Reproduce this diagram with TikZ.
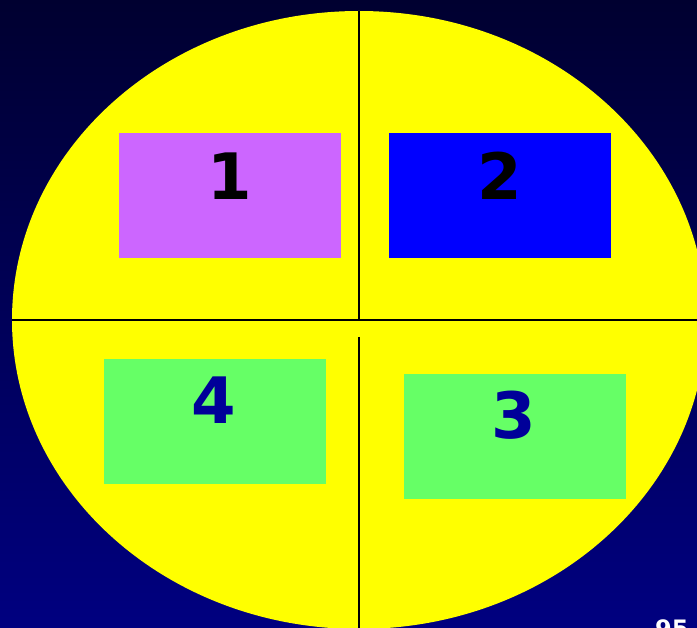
\documentclass[tikz,border=0pt]{standalone}
\usepackage{fontspec}
\setmainfont{DejaVu Sans}
\begin{document}
\begin{tikzpicture}[x=1pt,y=-1pt,
  box/.style={draw=none,anchor=north west,inner sep=0pt,minimum width=222pt,minimum height=125pt},
  num/.style={inner sep=0pt,font=\fontsize{64}{64}\selectfont\bfseries},
  divider/.style={draw=black,line width=2pt}]
\useasboundingbox (0,0) rectangle (697,628);
\shade[top color={rgb,255:red,0;green,0;blue,48},bottom color={rgb,255:red,0;green,0;blue,128}] (0,0) rectangle (697,628);
\begin{scope}
\clip (0,0) rectangle (697,628);
\fill[fill={rgb,255:red,255;green,255;blue,0}] (359,320) ellipse [x radius=347, y radius=309];
\coordinate (top) at (359,11);
\coordinate (mid) at (359,320);
\coordinate (left) at (12,320);
\coordinate (right) at (710,320);
\coordinate (lowtop) at (359,337);
\coordinate (bottom) at (359,632);
\draw[divider] (top) -- (mid);
\draw[divider] (left) -- (right);
\draw[divider] (lowtop) -- (bottom);
\node[box,fill={rgb,255:red,204;green,102;blue,255}] (r1) at (119,133) {};
\node[box,fill={rgb,255:red,0;green,0;blue,255}] (r2) at (389,133) {};
\node[box,fill={rgb,255:red,102;green,255;blue,102}] (r4) at (104,359) {};
\node[box,fill={rgb,255:red,102;green,255;blue,102}] (r3) at (404,374) {};
\node[num,text=black] (t1) at (230,176) {1};
\node[num,text=black] (t2) at (500,176) {2};
\node[num,text={rgb,255:red,0;green,0;blue,153}] (t4) at (214,400) {4};
\node[num,text={rgb,255:red,0;green,0;blue,153}] (t3) at (514,415) {3};
\node[anchor=north west,inner sep=0pt,text=white,font=\fontsize{24}{24}\selectfont\bfseries] (pg) at (655,620) {95};
\end{scope}
\end{tikzpicture}
\end{document}
